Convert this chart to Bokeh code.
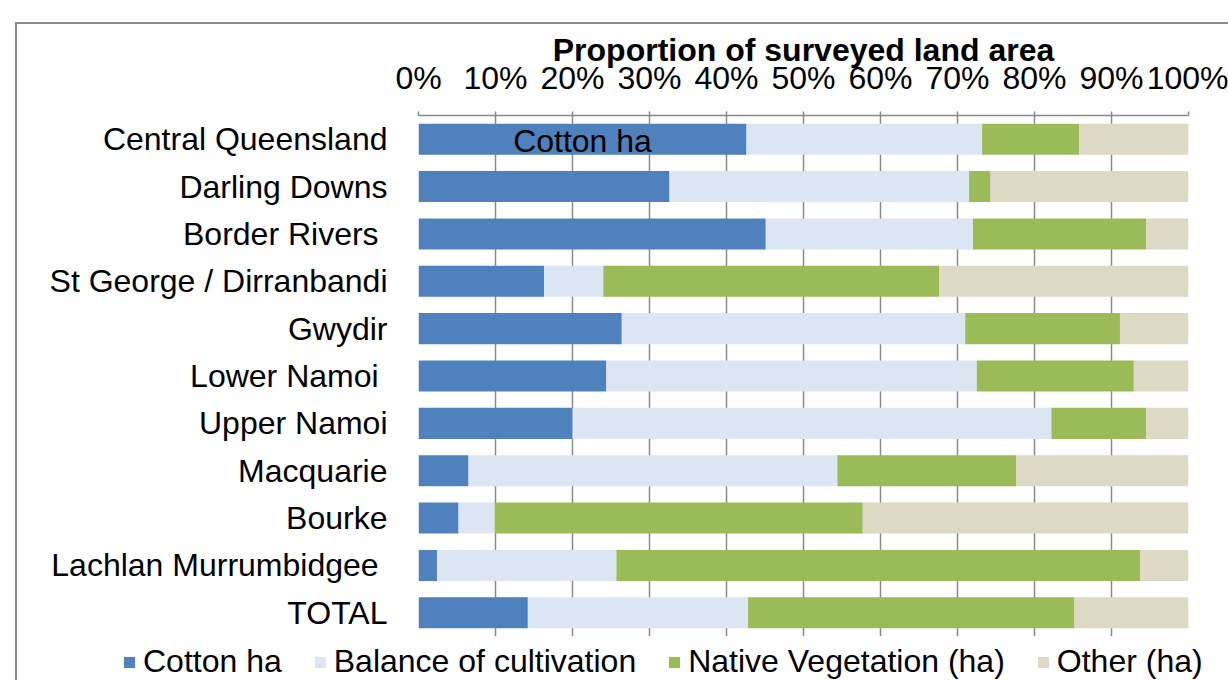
from bokeh.plotting import figure
from bokeh.models import (FactorRange, Range1d, FixedTicker, PrintfTickFormatter,
                          Legend, LegendItem, ColumnDataSource)
from bokeh.core.properties import value
from bokeh.embed import file_html
from bokeh.resources import INLINE

regions = ["Central Queensland", "Darling Downs", "Border Rivers ", "St George / Dirranbandi",
           "Gwydir", "Lower Namoi ", "Upper Namoi", "Macquarie", "Bourke",
           "Lachlan Murrumbidgee ", "TOTAL"]
cotton = [42.6, 32.6, 45.1, 16.3, 26.4, 24.4, 20.0, 6.5, 5.2, 2.4, 14.2]
balance = [30.6, 38.9, 26.9, 7.7, 44.6, 48.1, 62.2, 47.9, 4.7, 23.3, 28.6]
native = [12.6, 2.8, 22.5, 43.6, 20.1, 20.4, 12.3, 23.2, 47.8, 68.0, 42.4]
other = [14.2, 25.7, 5.5, 32.4, 8.9, 7.1, 5.5, 22.4, 42.3, 6.3, 14.8]
series_names = ["Cotton ha", "Balance of cultivation", "Native Vegetation (ha)", "Other (ha)"]
colors = ["#4F81BD", "#DCE6F2", "#9BBB59", "#DDD9C4"]
x_ticks = [0, 10, 20, 30, 40, 50, 60, 70, 80, 90, 100]

FONT = "Liberation Sans"
FS = "32px"
EDGE = "2px solid #8a8a8a"

source = ColumnDataSource(dict(region=regions, c=cotton, b=balance, n=native, o=other))

p = figure(frame_width=770, frame_height=521,
           y_range=FactorRange(factors=regions[::-1]),
           x_range=Range1d(0, 100),
           x_axis_location="above",
           output_backend="svg", toolbar_location=None,
           min_border_left=401, min_border_right=40, min_border_top=91, min_border_bottom=8,
           styles={"margin-left": "15px", "margin-top": "22px",
                   "border-left": EDGE, "border-top": EDGE})
p.outline_line_color = None
p.background_fill_color = "white"
p.border_fill_color = "white"

rends = p.hbar_stack(["c", "b", "n", "o"], y="region", height=0.655, color=colors,
                     line_color=None, source=source)

# data label in first bar
lab = ColumnDataSource(dict(x=[cotton[0] / 2], y=[regions[0]], t=[series_names[0]]))
p.text(x="x", y="y", text="t", source=lab, text_font=value(FONT), text_font_size=FS,
       text_align="center", text_baseline="middle", text_color="black", y_offset=2)

xa = p.xaxis[0]
xa.ticker = FixedTicker(ticks=x_ticks)
xa.formatter = PrintfTickFormatter(format="%d%%")
xa.axis_label = "Proportion of surveyed land area"
xa.axis_label_text_font = FONT
xa.axis_label_text_font_size = FS
xa.axis_label_text_font_style = "bold"
xa.axis_label_text_color = "black"
xa.axis_label_standoff = -11
xa.major_label_text_font = FONT
xa.major_label_text_font_size = FS
xa.major_label_text_color = "black"
xa.major_label_standoff = 16
xa.major_tick_out = 4
xa.major_tick_in = 0
xa.minor_tick_line_color = None
xa.axis_line_color = "#8a8a8a"
xa.axis_line_width = 1.5
xa.major_tick_line_color = "#8a8a8a"
xa.major_tick_line_width = 1.5

ya = p.yaxis[0]
ya.axis_line_color = None
ya.major_tick_line_color = None
ya.minor_tick_line_color = None
ya.major_tick_out = 0
ya.major_label_standoff = 31
ya.major_label_text_font = FONT
ya.major_label_text_font_size = FS
ya.major_label_text_color = "black"

p.xgrid.grid_line_color = "#8a8a8a"
p.xgrid.grid_line_width = 1.5
p.ygrid.grid_line_color = None

# legend strip below the chart (swatch renderers are zero-width bars)
leg = figure(width=1211, height=36, x_range=Range1d(0, 1), y_range=Range1d(0, 1),
             x_axis_location=None, y_axis_location=None, min_border=0,
             output_backend="svg", toolbar_location=None,
             styles={"margin-left": "15px", "border-left": EDGE})
leg.outline_line_color = None
leg.grid.grid_line_color = None
sw = ColumnDataSource(dict(y=[0.5], r=[0.0]))
leg_rends = [leg.hbar(y="y", right="r", height=1, color=c, line_color=None, source=sw)
             for c in colors]
items = [LegendItem(label=series_names[i], renderers=[leg_rends[i]]) for i in range(4)]
legend = Legend(items=items, orientation="horizontal", location=(105, 0),
                label_text_font=FONT, label_text_font_size=FS, label_text_color="black",
                glyph_width=14, glyph_height=14, label_standoff=7, spacing=31,
                padding=0, margin=0, border_line_color=None, background_fill_alpha=0)
leg.add_layout(legend, "center")

open("out.html", "w").write(file_html([p, leg], INLINE))
